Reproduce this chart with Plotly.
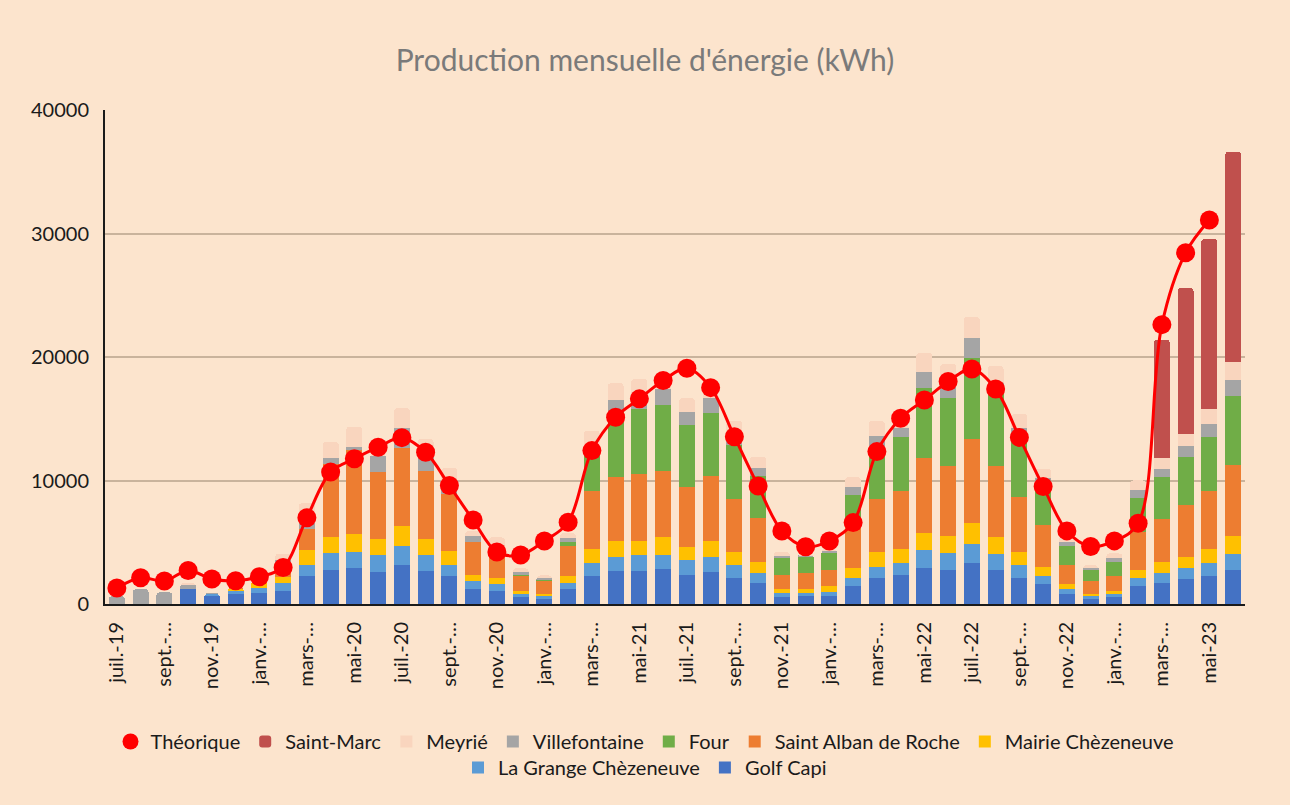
import plotly.graph_objects as go

months = ["juil.-19", "août-19", "sept.-19", "oct.-19", "nov.-19", "déc.-19",
          "janv.-20", "févr.-20", "mars-20", "avr.-20", "mai-20", "juin-20",
          "juil.-20", "août-20", "sept.-20", "oct.-20", "nov.-20", "déc.-20",
          "janv.-21", "févr.-21", "mars-21", "avr.-21", "mai-21", "juin-21",
          "juil.-21", "août-21", "sept.-21", "oct.-21", "nov.-21", "déc.-21",
          "janv.-22", "févr.-22", "mars-22", "avr.-22", "mai-22", "juin-22",
          "juil.-22", "août-22", "sept.-22", "oct.-22", "nov.-22", "déc.-22",
          "janv.-23", "févr.-23", "mars-23", "avr.-23", "mai-23", "juin-23"]

tick_labels = ["juil.-19", "sept.-…", "nov.-19", "janv.-…", "mars-…", "mai-20",
               "juil.-20", "sept.-…", "nov.-20", "janv.-…", "mars-…", "mai-21",
               "juil.-21", "sept.-…", "nov.-21", "janv.-…", "mars-…", "mai-22",
               "juil.-22", "sept.-…", "nov.-22", "janv.-…", "mars-…", "mai-23"]

golf_capi = [0, 0, 0, 1200, 720, 820, 920, 1070, 2270, 2770, 2900, 2630,
             3160, 2670, 2270, 1240, 1080, 590, 430, 1240, 2270, 2670, 2670, 2810,
             2350, 2620, 2110, 1700, 540, 680, 680, 1460, 2110, 2350, 2890, 2750,
             3300, 2760, 2140, 1620, 810, 410, 540, 1460, 1730, 2000, 2270, 2760]

la_grange = [0, 0, 0, 0, 100, 240, 400, 650, 890, 1350, 1350, 1350,
             1570, 1300, 890, 620, 510, 220, 220, 490, 1050, 1130, 1300, 1160,
             1220, 1190, 1050, 810, 380, 240, 270, 650, 920, 950, 1450, 1350,
             1570, 1320, 1030, 650, 380, 240, 270, 680, 810, 950, 1030, 1320]

mairie = [0, 0, 0, 0, 0, 220, 350, 480, 1220, 1300, 1440, 1270,
          1620, 1300, 1160, 490, 510, 240, 160, 540, 1130, 1300, 1130, 1430,
          1080, 1300, 1050, 920, 270, 270, 510, 810, 1190, 1160, 1390, 1400,
          1680, 1320, 1080, 760, 400, 160, 240, 620, 890, 890, 1160, 1430]

saint_alban = [0, 0, 0, 0, 0, 100, 200, 1130, 1680, 5880, 6780, 5420,
               6260, 5510, 4590, 2650, 1900, 1220, 1080, 2460, 4730, 5160, 5430, 5370,
               4810, 5290, 4320, 3560, 1160, 1350, 1320, 3350, 4320, 4730, 6110, 5670,
               6840, 5780, 4430, 3330, 1570, 1050, 1220, 3030, 3430, 4190, 4730, 5760]

four = [0, 0, 0, 0, 0, 0, 0, 0, 0, 0, 0, 0,
        0, 0, 0, 0, 0, 110, 110, 300, 2890, 5320, 5270, 5350,
        5000, 5100, 4350, 3380, 1350, 1300, 1320, 2570, 4210, 4370, 5630, 5480,
        6540, 5890, 5160, 3430, 1570, 950, 1160, 2760, 3410, 3840, 4330, 5540]

villefontaine = [650, 1200, 950, 380, 50, 60, 100, 270, 490, 540, 270, 1300,
                 1620, 1160, 460, 510, 200, 240, 160, 320, 400, 950, 460, 1300,
                 1050, 1160, 400, 680, 220, 110, 220, 650, 890, 730, 1290, 950,
                 1620, 810, 380, 400, 320, 140, 270, 700, 650, 890, 1050, 1350]

meyrie = [0, 0, 0, 100, 0, 0, 0, 480, 1630, 1300, 1630, 200,
          1620, 1430, 1670, 400, 1200, 270, 160, 380, 1570, 1350, 1970, 860,
          1160, 400, 1540, 890, 300, 100, 100, 780, 1190, 300, 1580, 1840,
          1700, 1400, 1190, 760, 400, 190, 400, 760, 890, 1030, 1220, 1410]

saint_marc = [None] * 44 + [9600, 11810, 13790, 17060]

theorique = [1300, 2130, 1860, 2720, 2020, 1880, 2210, 2960, 6990, 10680, 11760, 12700,
             13470, 12290, 9590, 6800, 4210, 3970, 5100, 6620, 12420, 15120, 16610, 18090,
             19090, 17520, 13550, 9560, 5910, 4640, 5100, 6590, 12340, 15040, 16520, 18010,
             19030, 17410, 13490, 9520, 5920, 4650, 5110, 6540, 22620, 28440, 31090, None]

bar_series = [
    ("Golf Capi", golf_capi, "#4472C4", 9, "legend2"),
    ("La Grange Chèzeneuve", la_grange, "#5B9BD5", 8, "legend2"),
    ("Mairie Chèzeneuve", mairie, "#FFC000", 7, "legend"),
    ("Saint Alban de Roche", saint_alban, "#ED7D31", 6, "legend"),
    ("Four", four, "#70AD47", 5, "legend"),
    ("Villefontaine", villefontaine, "#A5A5A5", 4, "legend"),
    ("Meyrié", meyrie, "#F9D5BE", 3, "legend"),
    ("Saint-Marc", saint_marc, "#C0504D", 2, "legend"),
]

BG = "#FCE4CD"
TXT = "#1a1a1a"
FONT = "Lato, Liberation Sans, Arial, sans-serif"

fig = go.Figure()
for name, vals, color, rank, lg in bar_series:
    marker = dict(color=color, line=dict(width=0))
    if name == "Saint-Marc":
        marker["cornerradius"] = 4
    fig.add_trace(go.Bar(x=months, y=vals, name=name, marker=marker,
                         legendrank=rank, legend=lg))

fig.add_trace(go.Scatter(x=months, y=theorique, name="Théorique", mode="lines+markers",
                         line=dict(color="#FF0000", width=3, shape="spline", smoothing=1),
                         marker=dict(color="#FF0000", size=19),
                         showlegend=False))
# legend entry (marker only)
fig.add_trace(go.Scatter(x=[months[0]], y=[None], name="Théorique", mode="markers",
                         marker=dict(color="#FF0000", size=18), legendrank=1,
                         legend="legend"))

fig.update_layout(
    width=1290, height=805, autosize=False,
    paper_bgcolor=BG, plot_bgcolor=BG,
    barmode="stack", bargap=0.32,
    margin=dict(l=105, r=45, t=110, b=201),
    title=dict(text="Production mensuelle d'énergie (kWh)", x=0.5, xref="container",
               y=1 - 60 / 805, yref="container", yanchor="middle", xanchor="center",
               font=dict(family=FONT, size=30, color="#7a7a7a")),
    font=dict(family=FONT, color=TXT),
    legend=dict(orientation="h", x=0.5, xanchor="center", xref="container",
                y=1 - 722 / 805, yref="container", yanchor="top",
                font=dict(family=FONT, size=20, color=TXT), bgcolor="rgba(0,0,0,0)",
                traceorder="normal"),
    legend2=dict(orientation="h", x=0.5, xanchor="center", xref="container",
                 y=1 - 748 / 805, yref="container", yanchor="top",
                 font=dict(family=FONT, size=20, color=TXT), bgcolor="rgba(0,0,0,0)",
                 traceorder="normal"),
    xaxis=dict(type="category", categoryorder="array", categoryarray=months,
               range=[-0.5, len(months) - 0.5], autorange=False,
               tickmode="array", tickvals=months[::2], ticktext=tick_labels,
               tickangle=-90, tickfont=dict(family=FONT, size=20, color=TXT),
               showline=True, linecolor="#1a1a1a", linewidth=2,
               showgrid=False, ticks="", ticklabelstandoff=8),
    yaxis=dict(range=[0, 40000], tickvals=[0, 10000, 20000, 30000, 40000],
               ticktext=["0", "10000", "20000", "30000", "40000"],
               tickfont=dict(family=FONT, size=20, color=TXT),
               showline=True, linecolor="#1a1a1a", linewidth=2,
               showgrid=True, gridcolor="#C9B39C", gridwidth=1.5,
               zeroline=False, ticks="", ticklabelstandoff=10),
)

fig.write_html("out.html", post_script="document.body.style.margin='0';",
               config={"displayModeBar": False})
